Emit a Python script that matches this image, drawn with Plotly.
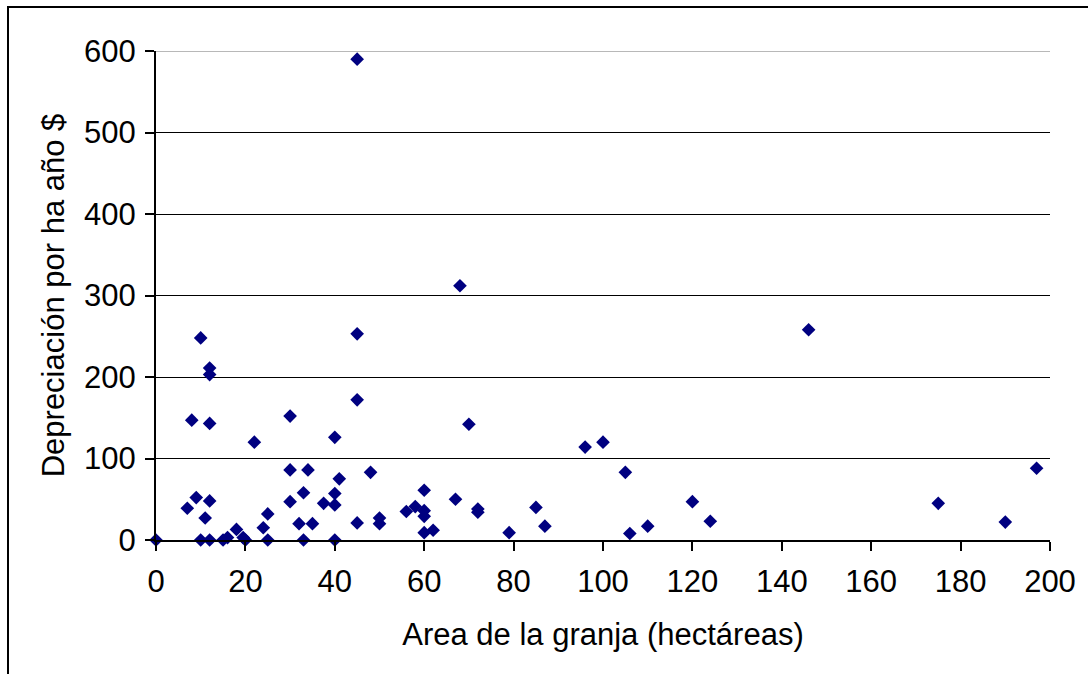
import plotly.graph_objects as go

area_ha = [0, 7, 9, 12, 11, 10, 12, 15, 16, 18, 19.5, 20, 10, 12, 12, 8, 12, 22, 24, 25, 25,
           30, 33, 32, 35, 33, 37.5, 40, 40, 40, 41, 30, 34, 30, 40, 45, 45, 45, 45, 48,
           50, 50, 56, 58, 60, 60, 60, 60, 62, 67, 68, 70, 72, 72, 79, 85, 87, 96, 100,
           105, 106, 110, 120, 124, 146, 175, 190, 197]
depreciacion = [0, 39, 52, 48, 27, 0, 0, 0, 3, 13, 3, 0, 248, 211, 203, 147, 143, 120, 15, 32, 0,
                47, 58, 20, 20, 0, 45, 43, 57, 0, 75, 86, 86, 152, 126, 172, 253, 590, 21, 83,
                27, 20, 35, 41, 36, 29, 61, 9, 12, 50, 312, 142, 38, 34, 9, 40, 17, 114, 120,
                83, 8, 17, 47, 23, 258, 45, 22, 88]

x_ticks = [0, 20, 40, 60, 80, 100, 120, 140, 160, 180, 200]
y_ticks = [0, 100, 200, 300, 400, 500, 600]

FONT = "Liberation Sans, Arial, sans-serif"

fig = go.Figure()
fig.add_trace(go.Scatter(
    x=area_ha, y=depreciacion, mode="markers",
    marker=dict(symbol="diamond", size=10.5, color="#000080", line=dict(width=0)),
    showlegend=False, cliponaxis=False,
))

W, H = 1088, 674
L, R, T, B = 156, 38, 51, 134
pw = W - L - R
ph = H - T - B

fig.update_layout(
    width=W, height=H,
    margin=dict(l=L, r=R, t=T, b=B),
    paper_bgcolor="white", plot_bgcolor="white",
    font=dict(family=FONT, size=31, color="black"),
    xaxis=dict(
        range=[0, 200], tickvals=x_ticks, ticktext=[str(v) for v in x_ticks],
        showgrid=False, zeroline=False,
        showline=True, linecolor="black", linewidth=2,
        ticks="outside", ticklen=9, tickwidth=2, tickcolor="black",
        ticklabelstandoff=4,
        title=dict(text="Area de la granja (hectáreas)", font=dict(size=31), standoff=25),
    ),
    yaxis=dict(
        range=[0, 600], tickvals=y_ticks, ticktext=[str(v) for v in y_ticks],
        showgrid=True, gridcolor="black", gridwidth=1.3, zeroline=False,
        showline=True, linecolor="black", linewidth=2,
        ticks="outside", ticklen=9, tickwidth=2, tickcolor="black",
        ticklabelstandoff=3,
        title=dict(text="Depreciación por ha año $", font=dict(size=31), standoff=10),
    ),
    shapes=[
        dict(type="line", xref="x", yref="y", x0=0, x1=200, y0=600, y1=600,
             line=dict(color="#a0a0a0", width=1.3), layer="above"),
        dict(type="rect", xref="paper", yref="paper",
             x0=(8 - L) / pw, x1=(W + 20 - L) / pw,
             y0=(H - B - (H + 20)) / ph, y1=(H - B - 7) / ph,
             line=dict(color="black", width=2), fillcolor="rgba(0,0,0,0)", layer="below"),
    ],
)

fig.write_html("out.html", config={"displayModeBar": False},
               post_script="document.body.style.margin='0px';")
